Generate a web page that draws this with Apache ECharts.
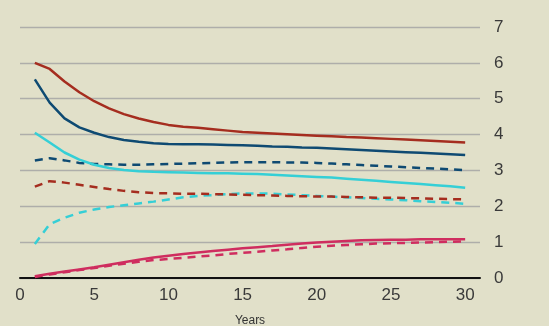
<!DOCTYPE html>
<html>
<head>
<meta charset="utf-8">
<script src="https://cdn.jsdelivr.net/npm/echarts@6/dist/echarts.min.js"></script>
<style>
html,body{margin:0;padding:0;background:#e1e0c9;}
#c{width:549px;height:326px;}
</style>
</head>
<body>
<div id="c"></div>
<script>
const years = [1,2,3,4,5,6,7,8,9,10,11,12,13,14,15,16,17,18,19,20,21,22,23,24,25,26,27,28,29,30];
const redSolid = [6.0,5.83,5.48,5.18,4.93,4.73,4.57,4.45,4.35,4.27,4.22,4.19,4.15,4.11,4.07,4.05,4.03,4.01,3.99,3.97,3.95,3.93,3.92,3.90,3.88,3.86,3.84,3.82,3.80,3.78];
const navySolid = [5.54,4.89,4.45,4.2,4.05,3.93,3.85,3.80,3.76,3.74,3.73,3.73,3.72,3.71,3.70,3.69,3.67,3.66,3.64,3.63,3.61,3.59,3.57,3.55,3.53,3.51,3.49,3.47,3.45,3.43];
const cyanSolid = [4.05,3.78,3.50,3.30,3.16,3.07,3.01,2.98,2.96,2.95,2.94,2.93,2.92,2.92,2.91,2.90,2.88,2.86,2.84,2.82,2.80,2.77,2.74,2.71,2.68,2.65,2.62,2.59,2.56,2.52];
const navyDash = [3.28,3.34,3.28,3.21,3.18,3.17,3.16,3.16,3.17,3.18,3.19,3.20,3.21,3.22,3.23,3.23,3.23,3.22,3.22,3.21,3.19,3.17,3.15,3.13,3.11,3.09,3.07,3.05,3.03,3.01];
const redDash = [2.55,2.70,2.66,2.60,2.54,2.48,2.43,2.39,2.37,2.36,2.35,2.35,2.34,2.33,2.32,2.31,2.30,2.29,2.28,2.27,2.27,2.26,2.25,2.24,2.24,2.23,2.22,2.21,2.20,2.19];
const cyanDash = [0.95,1.5,1.68,1.82,1.91,1.98,2.03,2.08,2.13,2.19,2.25,2.29,2.31,2.34,2.36,2.36,2.35,2.33,2.31,2.29,2.27,2.25,2.23,2.21,2.19,2.17,2.14,2.12,2.10,2.07];
const pinkSolid = [0.05,0.12,0.18,0.24,0.30,0.37,0.44,0.51,0.57,0.62,0.67,0.71,0.75,0.79,0.83,0.86,0.89,0.93,0.96,0.99,1.01,1.03,1.05,1.06,1.07,1.07,1.08,1.08,1.08,1.08];
const pinkDash = [0.03,0.10,0.16,0.22,0.28,0.34,0.40,0.45,0.50,0.53,0.56,0.60,0.63,0.67,0.70,0.73,0.77,0.80,0.84,0.87,0.90,0.92,0.94,0.96,0.97,0.98,0.99,1.00,1.01,1.02];
const xTicks = [0,5,10,15,20,25,30];
const yTicks = [0,1,2,3,4,5,6,7];
const xName = 'Years';

const FONT = '"Liberation Sans", Arial, sans-serif';
const C = {red:'#a52d1f', navy:'#0e4a72', cyan:'#35cfd6', pink:'#cf2d5f'};
function mk(data, color, dashed, z){
  return {
    type:'line', data: years.map((y,i)=>[y,data[i]]), showSymbol:false, symbol:'none',
    lineStyle:{color, width:2.5, type: dashed ? [8,6] : 'solid', cap:'butt'},
    z: z, animation:false
  };
}
const chart = echarts.init(document.getElementById('c'), null, {renderer:'canvas'});
chart.setOption({
  backgroundColor:'#e1e0c9',
  animation:false,
  grid:{left:20, right:69, top:27, bottom:48, containLabel:false, outerBoundsMode:'none'},
  xAxis:{
    type:'value', min:0, max:31, interval:5,
    name:xName, nameLocation:'middle', nameGap:37,
    nameTextStyle:{fontSize:12, color:'#333', fontFamily:FONT},
    axisLine:{show:true, lineStyle:{color:'#111', width:2}},
    axisTick:{show:false},
    splitLine:{show:false},
    axisLabel:{fontSize:17, color:'#3a3a3a', margin:9, fontFamily:FONT, showMaxLabel:false,
      formatter: v => xTicks.includes(v) ? String(v) : ''}
  },
  yAxis:{
    type:'value', position:'right', min:0, max:7, interval:1,
    axisLine:{show:false}, axisTick:{show:false},
    splitLine:{show:true, lineStyle:{color:'#aeaeaa', width:1.3}},
    axisLabel:{fontSize:17, color:'#3a3a3a', margin:14, fontFamily:FONT,
      formatter: v => yTicks.includes(v) ? String(v) : ''}
  },
  series:[
    mk(pinkDash, C.pink, true, 2),
    mk(pinkSolid, C.pink, false, 3),
    mk(cyanDash, C.cyan, true, 2),
    mk(redDash, C.red, true, 3),
    mk(navyDash, C.navy, true, 2),
    mk(cyanSolid, C.cyan, false, 3),
    mk(navySolid, C.navy, false, 3),
    mk(redSolid, C.red, false, 3)
  ]
});
</script>
</body>
</html>
